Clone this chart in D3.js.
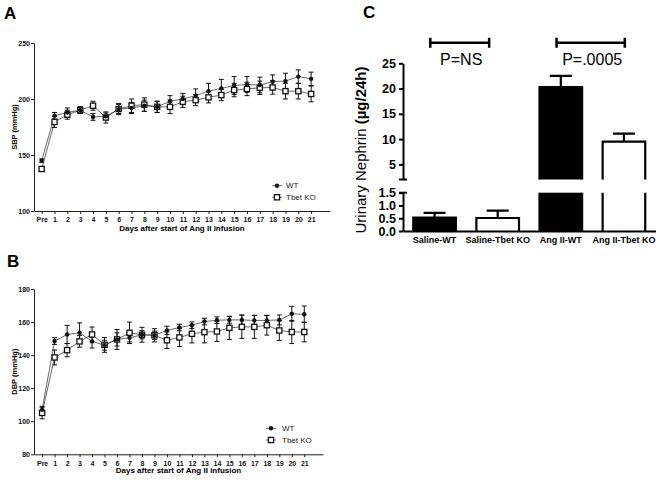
<!DOCTYPE html>
<html><head><meta charset="utf-8">
<script src="https://cdn.jsdelivr.net/npm/d3@7"></script>
<style>body{margin:0;background:#fff} svg{display:block} text{font-family:Arial,"Liberation Sans",sans-serif}</style>
</head><body><svg id="c" width="664" height="481"></svg>
<script>
// ---------- DATA ----------
const days = ["Pre","1","2","3","4","5","6","7","8","9","10","11","12","13","14","15","16","17","18","19","20","21"];
const seriesNames = ["WT","Tbet KO"];
const sbpWT    = [145,185,188,190,184,184.5,191,192,194,193,198,200,203,207,209.5,212,213,212.5,215.5,216,220,218];
const sbpWTErr = [1.5,3,4,3,3,3,4,5,5,5,5,5,6,7,8,8,7,7,6,7,6,6];
const sbpKO    = [137.5,179.5,186,190,194,183.5,191,194,195,193,193,197.5,199,201.5,203.5,208,209,210,210.3,207,207,204.5];
const sbpKOErr = [2,5,4,3,4,5,5,6,6,5,6,5,5,5,5,6,6,6,6,7,7,7];
const dbpWT    = [107,148.5,152.5,153.5,148.3,146,149.5,150.5,152.3,152,155,156.7,158.1,160.3,161.1,161.3,161.3,161,161,161.3,165,164.7];
const dbpWTErr = [2,2,5.5,6,4,3,4,2.5,2.5,2.5,2.5,2,2,2,2,2,3,3,3,3,4.5,5];
const dbpKO    = [105,138.6,143,148.3,152.5,146.2,149.5,153.5,152.3,152,149,150.7,152.9,153.9,154.3,156.5,157.1,157.1,158.1,154.9,154,154];
const dbpKOErr = [3.5,4.5,4,3.5,4.5,4.5,6,6.5,4.5,4,5,5.5,5.5,6.5,6,7,7,7,6,6,7,6];
const sbpTicks = [100,150,200,250];
const dbpTicks = [80,100,120,140,160,180];

const nephrinCats = ["Saline-WT","Saline-Tbet KO","Ang II-WT","Ang II-Tbet KO"];
const nephrinVals = [0.52,0.51,20.3,9.5];
const nephrinErr  = [0.19,0.29,2.2,1.6];
const upperTicks = [5,10,15,20,25];
const lowerTicks = [0,0.5,1,1.5];
const comparisons = [["Saline-WT","Saline-Tbet KO","P=NS"],["Ang II-WT","Ang II-Tbet KO","P=.0005"]];

// ---------- DRAW ----------
const svg = d3.select("#c");
svg.append("rect").attr("width",664).attr("height",481).attr("fill","#fff");

function panelLabel(t,x,y){
  svg.append("text").attr("x",x).attr("y",y).attr("font-size",17).attr("font-weight","bold").text(t);
}

function linePanel(o){
  const g = svg.append("g");
  const x = d3.scaleLinear().domain(o.xDomain).range(o.xRange);
  const y = d3.scaleLinear().domain(o.yDomain).range(o.yRange);
  const ax = g.append("g").attr("transform",`translate(0,${o.yRange[0]})`)
    .call(d3.axisBottom(x).tickValues(d3.range(days.length)).tickFormat(i=>days[i]).tickSize(3).tickSizeOuter(0).tickPadding(3.5));
  const ay = g.append("g").attr("transform",`translate(${o.xRange[0]},0)`)
    .call(d3.axisLeft(y).tickValues(o.yTicks).tickSize(3).tickSizeOuter(0).tickPadding(1));
  [ax,ay].forEach(a=>{
    a.selectAll("path,line").attr("stroke","#222").attr("stroke-width",1);
    a.selectAll("text").attr("font-size",7).attr("font-weight","bold").attr("fill","#111").attr("font-family",'Arial,"Liberation Sans",sans-serif');
  });
  g.append("text").attr("x",(o.xRange[0]+o.xRange[1])/2).attr("y",o.titleY)
    .attr("text-anchor","middle").attr("font-size",8).attr("font-weight","bold").text("Days after start of Ang II infusion");
  g.append("text").attr("transform",`translate(16.5,${(o.yRange[0]+o.yRange[1])/2}) rotate(-90)`)
    .attr("text-anchor","middle").attr("font-size",7.5).attr("font-weight","bold").text(o.ylab);

  const series = [{v:o.ko,e:o.koE,kind:"sq"},{v:o.wt,e:o.wtE,kind:"ci"}];
  const line = d3.line().x((d,i)=>x(i)).y(d=>y(d));
  series.forEach(s=>{
    g.append("path").attr("d",line(s.v)).attr("fill","none").attr("stroke","#444").attr("stroke-width",0.8);
  });
  series.forEach(s=>{
    s.v.forEach((v,i)=>{
      const cx=x(i), t=y(v+s.e[i]), b=y(v-s.e[i]);
      g.append("path").attr("d",`M${cx},${t}V${b}M${cx-2.5},${t}H${cx+2.5}M${cx-2.5},${b}H${cx+2.5}`)
        .attr("stroke","#111").attr("stroke-width",1).attr("fill","none");
    });
  });
  series.forEach(s=>{
    s.v.forEach((v,i)=>{
      if(s.kind==="sq") g.append("rect").attr("x",x(i)-2.6).attr("y",y(v)-2.6).attr("width",5.2).attr("height",5.2)
        .attr("fill","#fff").attr("stroke","#111").attr("stroke-width",1.3);
      else g.append("circle").attr("cx",x(i)).attr("cy",y(v)).attr("r",2.2).attr("fill","#111");
    });
  });
  // legend
  seriesNames.forEach((n,k)=>{
    const lx=o.leg[0], ly=o.leg[1]+k*o.leg[2];
    g.append("line").attr("x1",lx-5).attr("x2",lx+5).attr("y1",ly).attr("y2",ly).attr("stroke","#444").attr("stroke-width",0.8);
    if(k===0) g.append("circle").attr("cx",lx).attr("cy",ly).attr("r",2.2).attr("fill","#111");
    else g.append("rect").attr("x",lx-2.6).attr("y",ly-2.6).attr("width",5.2).attr("height",5.2).attr("fill","#fff").attr("stroke","#111").attr("stroke-width",1.3);
    g.append("text").attr("x",o.leg[3]).attr("y",ly+2.7).attr("font-size",8).attr("fill","#222").text(n);
  });
}

panelLabel("A",4,19);
linePanel({xDomain:[-0.6,22.47],xRange:[34,330],yDomain:[100,250],yRange:[211,43],yTicks:sbpTicks,
  wt:sbpWT,wtE:sbpWTErr,ko:sbpKO,koE:sbpKOErr,ylab:"SBP (mmHg)",titleY:231,leg:[277,185.7,11.6,286]});
panelLabel("B",7,267);
linePanel({xDomain:[-0.65,22.5],xRange:[34,323],yDomain:[80,180],yRange:[454.3,289],yTicks:dbpTicks,
  wt:dbpWT,wtE:dbpWTErr,ko:dbpKO,koE:dbpKOErr,ylab:"DBP (mmHg)",titleY:473,leg:[271,428.3,11.7,282]});

// ---------- Panel C ----------
panelLabel("C",363,18);
const gc = svg.append("g");
const axX = 403, breakLo = 1.5, breakHi = 2;
const xb = d3.scaleBand().domain(nephrinCats).range([axX,655.5]).paddingInner(0.325).paddingOuter(0.1625);
const yUp = d3.scaleLinear().domain([breakHi,25]).range([179.5,63.3]);
const yLo = d3.scaleLinear().domain([0,breakLo]).range([231,192.7]);
const bw = xb.bandwidth();

nephrinVals.forEach((v,i)=>{
  const c=nephrinCats[i], x0=xb(c), x1=x0+bw, dark=c.endsWith("-WT");
  const segs=[];
  if(v>breakLo){
    segs.push({t:yLo(breakLo),b:yLo(0),open:true});
    segs.push({t:yUp(v),b:yUp(breakHi),open:false});
  } else segs.push({t:yLo(v),b:yLo(0),open:false});
  segs.forEach(s=>{
    gc.append("rect").attr("x",x0).attr("y",s.t).attr("width",bw).attr("height",s.b-s.t).attr("fill",dark?"#000":"#fff");
    gc.append("path").attr("d",s.open?`M${x0},${s.b}V${s.t}M${x1},${s.t}V${s.b}`:`M${x0},${s.b}V${s.t}H${x1}V${s.b}`)
      .attr("fill","none").attr("stroke","#000").attr("stroke-width",2.2);
  });
  const sc = v>breakLo?yUp:yLo, cx=x0+bw/2;
  gc.append("path").attr("d",`M${cx},${sc(v)}V${sc(v+nephrinErr[i])}M${cx-11},${sc(v+nephrinErr[i])}H${cx+11}`)
    .attr("stroke","#000").attr("stroke-width",2.2).attr("fill","none");
});

const aUp = gc.append("g").attr("transform",`translate(${axX},0)`)
  .call(d3.axisLeft(yUp).tickValues(upperTicks).tickSize(4).tickSizeOuter(0).tickPadding(3));
const aLo = gc.append("g").attr("transform",`translate(${axX},0)`)
  .call(d3.axisLeft(yLo).tickValues(lowerTicks).tickFormat(d3.format(".1f")).tickSize(4).tickSizeOuter(0).tickPadding(3));
[aUp,aLo].forEach(a=>{
  a.selectAll("path,line").attr("stroke","#000").attr("stroke-width",2);
  a.selectAll("text").attr("font-size",12.5).attr("font-weight","bold").attr("fill","#000").attr("font-family",'Arial,"Liberation Sans",sans-serif');
});
[yUp(breakHi),yLo(breakLo)].forEach(yy=>{
  gc.append("line").attr("x1",axX-4).attr("x2",axX+4).attr("y1",yy).attr("y2",yy).attr("stroke","#000").attr("stroke-width",2);
});
const aX = gc.append("g").attr("transform",`translate(0,${yLo(0)})`)
  .call(d3.axisBottom(xb).tickSize(0).tickPadding(6));
aX.select("path").attr("stroke","#000").attr("stroke-width",2);
aX.selectAll("text").attr("font-size",9).attr("font-weight","bold").attr("fill","#000").attr("font-family",'Arial,"Liberation Sans",sans-serif');

const yl = gc.append("text").attr("transform",`translate(366,150) rotate(-90)`).attr("text-anchor","middle").attr("font-size",15);
yl.append("tspan").text("Urinary Nephrin ");
yl.append("tspan").attr("font-weight","bold").text("(µg/24h)");

const brOff = [[0.4,0.3],[0.4,0.52]];
comparisons.forEach((cmp,k)=>{
  const x1 = xb(cmp[0])+bw*brOff[k][0], x2 = xb(cmp[1])+bw*brOff[k][1], by=42.7;
  gc.append("path").attr("d",`M${x1},${by}H${x2}M${x1},${by-5}V${by+5}M${x2},${by-5}V${by+5}`)
    .attr("stroke","#000").attr("stroke-width",2.5).attr("fill","none");
  gc.append("text").attr("x",(x1+x2)/2+1.5).attr("y",64.5).attr("text-anchor","middle").attr("font-size",16).text(cmp[2]);
});
</script></body></html>
